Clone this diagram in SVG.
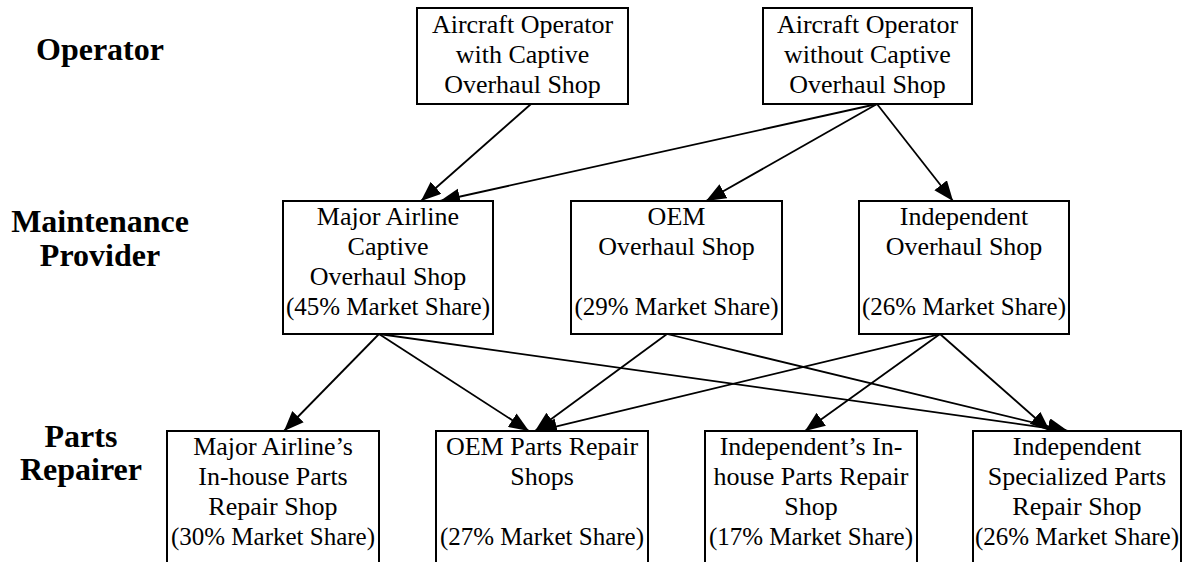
<svg xmlns="http://www.w3.org/2000/svg" width="1183" height="562" viewBox="0 0 1183 562">
  <style>
    .box { fill: #ffffff; stroke: #000000; stroke-width: 2; }
    text { font-family: 'Liberation Serif', 'Times New Roman', serif; fill: #000000; text-anchor: middle; }
    .txt { font-size: 26px; }
    .share { font-size: 25px; }
    .tier { font-size: 32px; font-weight: bold; }
    .edge { fill: none; stroke: #000000; stroke-width: 1.8; marker-end: url(#arrow); }
  </style>
  <defs>
    <marker id="arrow" markerUnits="userSpaceOnUse" markerWidth="22" markerHeight="18" refX="20" refY="8" orient="auto">
      <path d="M0,0 L20,8 L0,16 z" fill="#000000"/>
    </marker>
  </defs>
  <rect width="1183" height="562" fill="#ffffff"/>

  <!-- tier labels -->
  <g id="tier-labels">
    <text class="tier" x="100" y="60">Operator</text>
    <text class="tier" x="100" y="232">Maintenance</text>
    <text class="tier" x="100" y="266">Provider</text>
    <text class="tier" x="81" y="447">Parts</text>
    <text class="tier" x="81" y="480">Repairer</text>
  </g>

  <!-- connectors -->
  <g id="connectors">
    <line class="edge" x1="531" y1="104" x2="421" y2="201"/>
    <line class="edge" x1="877" y1="104" x2="440" y2="201"/>
    <line class="edge" x1="877" y1="104" x2="706" y2="201"/>
    <line class="edge" x1="877" y1="104" x2="953" y2="201"/>
    <line class="edge" x1="379" y1="334" x2="284" y2="431"/>
    <line class="edge" x1="379" y1="334" x2="529" y2="431"/>
    <line class="edge" x1="379" y1="334" x2="1068" y2="431"/>
    <line class="edge" x1="667" y1="334" x2="535" y2="431"/>
    <line class="edge" x1="667" y1="334" x2="1068" y2="431"/>
    <line class="edge" x1="940" y1="334" x2="537" y2="431"/>
    <line class="edge" x1="940" y1="334" x2="805" y2="431"/>
    <line class="edge" x1="940" y1="334" x2="1050" y2="431"/>
  </g>

  <!-- operators -->
  <g id="op-captive">
    <rect class="box" x="417" y="8" width="211" height="96"/>
    <text class="txt" x="522.5" y="33">Aircraft Operator</text>
    <text class="txt" x="522.5" y="63">with Captive</text>
    <text class="txt" x="522.5" y="93">Overhaul Shop</text>
  </g>
  <g id="op-no-captive">
    <rect class="box" x="763" y="8" width="209" height="96"/>
    <text class="txt" x="867.5" y="33">Aircraft Operator</text>
    <text class="txt" x="867.5" y="63">without Captive</text>
    <text class="txt" x="867.5" y="93">Overhaul Shop</text>
  </g>

  <!-- maintenance providers -->
  <g id="mp-airline">
    <rect class="box" x="283" y="201" width="210" height="133"/>
    <text class="txt" x="388" y="225">Major Airline</text>
    <text class="txt" x="388" y="255">Captive</text>
    <text class="txt" x="388" y="285">Overhaul Shop</text>
    <text class="share" x="388" y="315">(45% Market Share)</text>
  </g>
  <g id="mp-oem">
    <rect class="box" x="571" y="201" width="211" height="133"/>
    <text class="txt" x="676.5" y="225">OEM</text>
    <text class="txt" x="676.5" y="255">Overhaul Shop</text>
    <text class="share" x="676.5" y="315">(29% Market Share)</text>
  </g>
  <g id="mp-independent">
    <rect class="box" x="859" y="201" width="210" height="133"/>
    <text class="txt" x="964" y="225">Independent</text>
    <text class="txt" x="964" y="255">Overhaul Shop</text>
    <text class="share" x="964" y="315">(26% Market Share)</text>
  </g>

  <!-- parts repairers -->
  <g id="pr-airline">
    <rect class="box" x="167" y="431" width="212" height="140"/>
    <text class="txt" x="273" y="455">Major Airline’s</text>
    <text class="txt" x="273" y="485">In-house Parts</text>
    <text class="txt" x="273" y="515">Repair Shop</text>
    <text class="share" x="273" y="545">(30% Market Share)</text>
  </g>
  <g id="pr-oem">
    <rect class="box" x="436" y="431" width="212" height="140"/>
    <text class="txt" x="542" y="455">OEM Parts Repair</text>
    <text class="txt" x="542" y="485">Shops</text>
    <text class="share" x="542" y="545">(27% Market Share)</text>
  </g>
  <g id="pr-independent">
    <rect class="box" x="705" y="431" width="212" height="140"/>
    <text class="txt" x="811" y="455">Independent’s In-</text>
    <text class="txt" x="811" y="485">house Parts Repair</text>
    <text class="txt" x="811" y="515">Shop</text>
    <text class="share" x="811" y="545">(17% Market Share)</text>
  </g>
  <g id="pr-specialized">
    <rect class="box" x="973" y="431" width="208" height="140"/>
    <text class="txt" x="1077" y="455">Independent</text>
    <text class="txt" x="1077" y="485">Specialized Parts</text>
    <text class="txt" x="1077" y="515">Repair Shop</text>
    <text class="share" x="1077" y="545">(26% Market Share)</text>
  </g>
</svg>
